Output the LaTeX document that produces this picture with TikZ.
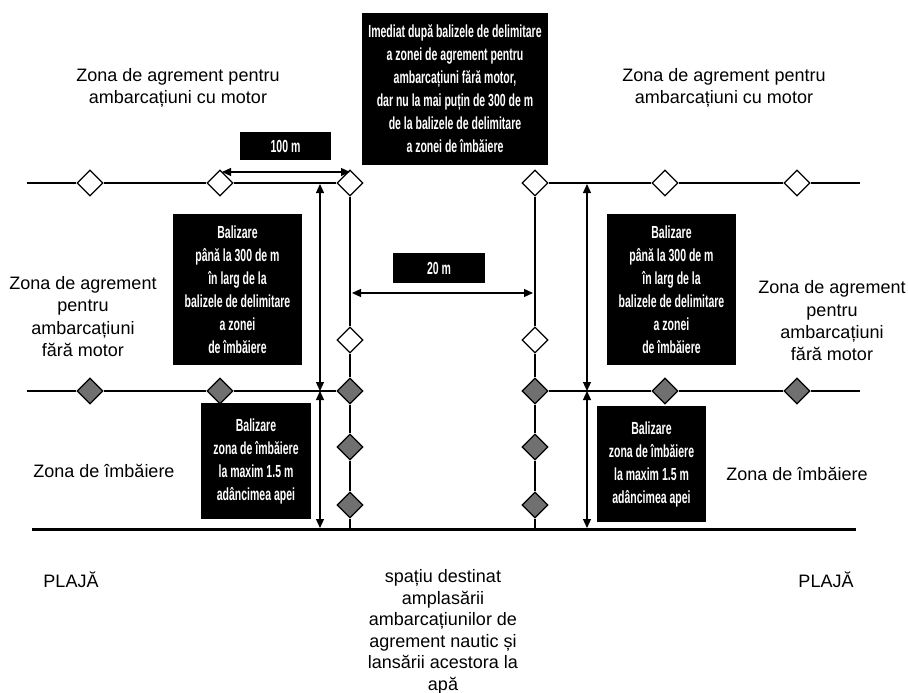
\documentclass[tikz,border=0pt]{standalone}
\usepackage{fontspec}
\setmainfont{Liberation Sans}
\newfontfamily\nb{Liberation Sans}[FakeStretch=0.6]
\usetikzlibrary{shapes.geometric,arrows.meta}
\definecolor{dgray}{RGB}{112,112,112}
\begin{document}
\begin{tikzpicture}[x=1pt,y=-1pt,
  wd/.style={diamond,draw,line width=1.2pt,fill=white,minimum size=26pt,inner sep=0pt},
  gd/.style={wd,fill=dgray},
  mline/.style={line width=2pt},
  bline/.style={line width=3pt},
  dim/.style={line width=1.2pt,{Triangle[length=9pt,width=8pt]}-{Triangle[length=9pt,width=8pt]}},
  bbox/.style={fill=black,text=white,font=\nb\bfseries\fontsize{17.5}{23}\selectfont,align=center,inner sep=0pt},
  lbl/.style={font=\fontsize{18}{21.5}\selectfont,align=center,inner sep=0pt}]
\useasboundingbox (0,0) rectangle (908,693);

% diamonds - top line (white)
\node[wd] (t1) at (90,183) {};
\node[wd] (t2) at (220,183) {};
\node[wd] (t3) at (350,183) {};
\node[wd] (t4) at (535,183) {};
\node[wd] (t5) at (665,183) {};
\node[wd] (t6) at (797,183) {};
% white diamonds on verticals
\node[wd] (lw) at (350,340) {};
\node[wd] (rw) at (535,340) {};
% grey diamonds - middle line
\node[gd] (m1) at (90,391) {};
\node[gd] (m2) at (220,391) {};
\node[gd] (m3) at (350,391) {};
\node[gd] (m4) at (535,391) {};
\node[gd] (m5) at (665,391) {};
\node[gd] (m6) at (797,391) {};
% grey diamonds on verticals
\node[gd] (l1) at (350,447) {};
\node[gd] (l2) at (350,505) {};
\node[gd] (r1) at (535,447) {};
\node[gd] (r2) at (535,505) {};

% free ends
\coordinate (tL) at (27,183);
\coordinate (tR) at (860,183);
\coordinate (mL) at (27,391);
\coordinate (mR) at (860,391);
\coordinate (bL) at (32,529);
\coordinate (bR) at (856,529);
\coordinate (lB) at (350,529);
\coordinate (rB) at (535,529);

% main lines
\draw[mline] (tL) -- (t1) -- (t2) -- (t3);
\draw[mline] (t4) -- (t5) -- (t6) -- (tR);
\draw[mline] (mL) -- (m1) -- (m2) -- (m3);
\draw[mline] (m4) -- (m5) -- (m6) -- (mR);
\draw[mline] (t3) -- (lw) -- (m3) -- (l1) -- (l2) -- (lB);
\draw[mline] (t4) -- (rw) -- (m4) -- (r1) -- (r2) -- (rB);
\draw[bline] (bL) -- (bR);

% dimension arrows
\coordinate (a1) at (320,184);
\coordinate (a2) at (320,391);
\coordinate (a3) at (320,528);
\draw[dim] (a1) -- (a2);
\draw[dim] (a2) -- (a3);
\coordinate (b1) at (587,184);
\coordinate (b2) at (587,391);
\coordinate (b3) at (587,528);
\draw[dim] (b1) -- (b2);
\draw[dim] (b2) -- (b3);
\coordinate (h1) at (222,172);
\coordinate (h2) at (350,172);
\draw[dim] (h1) -- (h2);
\coordinate (g1) at (352,293);
\coordinate (g2) at (533,293);
\draw[dim] (g1) -- (g2);

% black boxes
\node[bbox,minimum width=186pt,minimum height=152pt] (top) at (455,89)
  {Imediat după balizele de delimitare\\a zonei de agrement pentru\\ambarcațiuni fără motor,\\dar nu la mai puțin de 300 de m\\de la balizele de delimitare\\a zonei de îmbăiere};
\node[bbox,minimum width=91pt,minimum height=28pt] (d100) at (285.5,146) {100 m};
\node[bbox,minimum width=92pt,minimum height=30pt] (d20) at (439,268) {20 m};
\node[bbox,minimum width=129pt,minimum height=151pt] (lb1) at (237.5,289.5)
  {Balizare\\până la 300 de m\\în larg de la\\balizele de delimitare\\a zonei\\de îmbăiere};
\node[bbox,minimum width=110pt,minimum height=116pt] (lb2) at (256,461)
  {Balizare\\zona de îmbăiere\\la maxim 1.5 m\\adâncimea apei};
\node[bbox,minimum width=129pt,minimum height=151pt] (rb1) at (671.5,289.5)
  {Balizare\\până la 300 de m\\în larg de la\\balizele de delimitare\\a zonei\\de îmbăiere};
\node[bbox,minimum width=109pt,minimum height=116pt] (rb2) at (651.5,464)
  {Balizare\\zona de îmbăiere\\la maxim 1.5 m\\adâncimea apei};

% labels
\node[lbl] (zl1) at (178,88) {Zona de agrement pentru\\ambarcațiuni cu motor};
\node[lbl] (zr1) at (724,88) {Zona de agrement pentru\\ambarcațiuni cu motor};
\node[lbl,font=\fontsize{18}{22.3}\selectfont] (zl2) at (83,316.5) {Zona de agrement\\pentru\\ambarcațiuni\\fără motor};
\node[lbl,font=\fontsize{18}{22.3}\selectfont] (zr2) at (832,321) {Zona de agrement\\pentru\\ambarcațiuni\\fără motor};
\node[lbl] (zl3) at (104,471) {Zona de îmbăiere};
\node[lbl] (zr3) at (797,474) {Zona de îmbăiere};
\node[lbl] (pl) at (71,580) {PLAJĂ};
\node[lbl] (pr) at (826,580) {PLAJĂ};
\node[lbl] (sp) at (443,632) {spațiu destinat\\amplasării\\ambarcațiunilor de\\agrement nautic și\\lansării acestora la\\apă};
\end{tikzpicture}
\end{document}
